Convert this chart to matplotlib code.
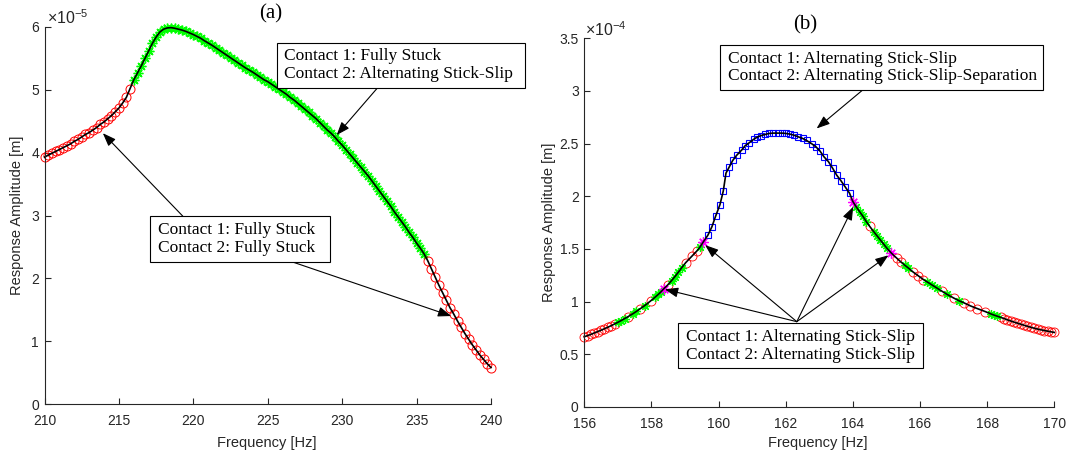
import numpy as np
import matplotlib
matplotlib.use('Agg')
from matplotlib import pyplot as plt
from matplotlib.ticker import FuncFormatter
from matplotlib.patches import Rectangle

plt.rcParams['font.family'] = 'Liberation Sans'
plt.rcParams['mathtext.fontset'] = 'custom'
plt.rcParams['mathtext.rm'] = 'Liberation Sans'
plt.rcParams['mathtext.it'] = 'Liberation Sans:italic'

W, H = 1067, 458
AX_COLOR = '#262626'
SERIF = 'Liberation Serif'
STAR = (8, 2, 0)

# ---- (a) response, amplitude in 1e-5 m ----
a_stuck_lo_f = [210.0, 210.25, 210.5, 210.75, 211.0, 211.25, 211.5, 211.75,
                212.0, 212.25, 212.5, 212.75, 213.0, 213.25, 213.5, 213.75,
                214.0, 214.25, 214.5, 214.75, 215.0, 215.25, 215.5, 215.75]
a_stuck_lo_amp = [3.93, 3.96, 3.99, 4.02, 4.05, 4.08, 4.11, 4.14,
                  4.18, 4.21, 4.25, 4.29, 4.32, 4.36, 4.40, 4.45,
                  4.49, 4.54, 4.59, 4.65, 4.71, 4.79, 4.88, 5.02]

a_slip_f = [216.0, 216.25, 216.5, 216.75, 217.0, 217.25, 217.5, 217.75,
            218.0, 218.25, 218.5, 218.75, 219.0, 219.25, 219.5, 219.75,
            220.0, 220.25, 220.5, 220.75, 221.0, 221.25, 221.5, 221.75,
            222.0, 222.25, 222.5, 222.75, 223.0, 223.25, 223.5, 223.75,
            224.0, 224.25, 224.5, 224.75, 225.0, 225.25, 225.5, 225.75,
            226.0, 226.25, 226.5, 226.75, 227.0, 227.25, 227.5, 227.75,
            228.0, 228.25, 228.5, 228.75, 229.0, 229.25, 229.5, 229.75,
            230.0, 230.25, 230.5, 230.75, 231.0, 231.25, 231.5, 231.75,
            232.0, 232.25, 232.5, 232.75, 233.0, 233.25, 233.5, 233.75,
            234.0, 234.25, 234.5, 234.75, 235.0, 235.25, 235.5]
a_slip_amp = [5.16, 5.27, 5.38, 5.50, 5.62, 5.74, 5.84, 5.92,
              5.965, 5.985, 5.99, 5.98, 5.965, 5.95, 5.93, 5.905,
              5.88, 5.85, 5.82, 5.78, 5.745, 5.71, 5.67, 5.63,
              5.59, 5.55, 5.51, 5.47, 5.43, 5.39, 5.35, 5.315,
              5.28, 5.24, 5.20, 5.16, 5.13, 5.09, 5.05, 5.01,
              4.97, 4.93, 4.88, 4.84, 4.79, 4.74, 4.69, 4.64,
              4.59, 4.54, 4.48, 4.42, 4.36, 4.31, 4.25, 4.18,
              4.12, 4.05, 3.98, 3.91, 3.84, 3.77, 3.70, 3.63,
              3.55, 3.47, 3.39, 3.31, 3.23, 3.15, 3.06, 2.98,
              2.90, 2.82, 2.73, 2.65, 2.56, 2.48, 2.39]

a_stuck_hi_f = [235.75, 236.0, 236.25, 236.5, 236.75, 237.0, 237.25, 237.5,
                237.75, 238.0, 238.25, 238.5, 238.75, 239.0, 239.25, 239.5,
                239.75, 240.0]
a_stuck_hi_amp = [2.28, 2.15, 2.02, 1.89, 1.77, 1.65, 1.53, 1.43,
                  1.32, 1.22, 1.12, 1.03, 0.94, 0.86, 0.78, 0.71,
                  0.64, 0.58]

# ---- (b) response, amplitude in 1e-4 m ----
b_stick_slip_f = [156.0, 156.1, 156.2, 156.3, 156.4, 156.5, 156.6, 156.7, 156.8, 156.9,
                  157.3, 157.65, 157.98, 158.48, 159.02, 159.2, 159.35,
                  164.5, 165.3, 165.42, 165.8, 165.95, 166.1, 166.65, 167.0, 167.3,
                  167.5, 167.7, 167.95,
                  168.4, 168.5, 168.6, 168.7, 168.8, 168.9, 169.0, 169.1, 169.2,
                  169.3, 169.4, 169.5, 169.6, 169.7, 169.8, 169.9, 170.0]
b_stick_slip_amp = [0.667, 0.678, 0.690, 0.703, 0.716, 0.729, 0.743, 0.757, 0.772, 0.788,
                    0.857, 0.929, 1.008, 1.157, 1.37, 1.43, 1.48,
                    1.715, 1.415, 1.38, 1.28, 1.245, 1.21, 1.10, 1.035, 0.99,
                    0.96, 0.935, 0.905,
                    0.851, 0.84, 0.828, 0.817, 0.806, 0.796, 0.786, 0.776, 0.766,
                    0.757, 0.748, 0.740, 0.733, 0.726, 0.720, 0.714, 0.708]

b_mixed_f = [157.0, 157.1, 157.2, 157.45, 157.55, 157.8, 158.1, 158.2, 158.28,
             158.6, 158.7, 158.8, 158.9, 159.45,
             164.1, 164.2, 164.3, 164.4, 164.62, 164.72, 164.82, 164.92, 165.02,
             165.55, 165.65, 166.2, 166.35, 166.5, 166.8, 167.15,
             168.1, 168.2, 168.3]
b_mixed_amp = [0.804, 0.821, 0.839, 0.886, 0.907, 0.963, 1.040, 1.068, 1.092,
               1.200, 1.238, 1.279, 1.322, 1.52,
               1.90, 1.855, 1.81, 1.76, 1.665, 1.625, 1.585, 1.545, 1.505,
               1.345, 1.32, 1.19, 1.16, 1.13, 1.07, 1.01,
               0.885, 0.873, 0.862]

b_switch_f = [158.36, 159.55, 164.0, 165.15]
b_switch_amp = [1.12, 1.57, 1.95, 1.46]

b_separation_f = [159.68, 159.80, 159.91, 160.04, 160.14, 160.22, 160.32, 160.42,
                  160.54, 160.69, 160.79, 160.92, 161.04, 161.14, 161.25, 161.38,
                  161.51, 161.63, 161.76, 161.88, 162.00, 162.13, 162.25, 162.37,
                  162.50, 162.62, 162.77, 162.90, 163.02, 163.14, 163.27, 163.40,
                  163.52, 163.64, 163.77, 163.90]
b_separation_amp = [1.63, 1.71, 1.81, 1.92, 2.05, 2.22, 2.28, 2.34,
                    2.39, 2.44, 2.48, 2.51, 2.54, 2.56, 2.575, 2.587,
                    2.597, 2.60, 2.60, 2.60, 2.597, 2.59, 2.58, 2.565,
                    2.55, 2.53, 2.50, 2.47, 2.43, 2.375, 2.33, 2.265,
                    2.20, 2.15, 2.09, 2.03]


def px(x, y):
    # figure pixel (from top-left) -> figure fraction
    return x / W, 1 - y / H


def style_axes(ax, scale):
    for side in ['top', 'right']:
        ax.spines[side].set_visible(False)
    for side in ['left', 'bottom']:
        ax.spines[side].set_color(AX_COLOR)
        ax.spines[side].set_linewidth(0.8)
    ax.tick_params(direction='in', length=4, width=0.8, colors=AX_COLOR,
                   labelsize=10)
    ax.tick_params(axis='x', pad=7)
    ax.tick_params(axis='y', pad=4)
    ax.yaxis.set_major_formatter(FuncFormatter(lambda v, p: '%g' % round(v / scale, 6)))
    ax.xaxis.set_major_formatter(FuncFormatter(lambda v, p: '%g' % v))


def text_box(fig, x0, y0, x1, y1, tx, text):
    l, b = px(x0, y1)
    fig.add_artist(Rectangle((l, b), (x1 - x0) / W, (y1 - y0) / H,
                             transform=fig.transFigure, fc='white',
                             ec='black', lw=0.8, zorder=5))
    fig.text(tx / W, 1 - (y0 + y1) / 2 / H, text, family=SERIF, fontsize=12.5,
             ha='left', va='center', linespacing=1.15, zorder=6)


def arrow(ax, tip, start):
    ax.annotate('', xy=tip, xytext=start, annotation_clip=False, zorder=7,
                arrowprops=dict(arrowstyle='-|>,head_length=0.8,head_width=0.3',
                                color='black', lw=0.8, shrinkA=0, shrinkB=0))


fig = plt.figure(figsize=(W / 100, H / 100), dpi=100)

# ---------------- panel (a) ----------------
ax1 = fig.add_axes([44.5 / W, 1 - 404 / H, (491 - 44.5) / W, (404 - 27) / H])
sa = 1e-5
ax1.plot(a_stuck_lo_f, np.array(a_stuck_lo_amp) * sa, 'o', ms=6.5, mfc='none',
         mec='red', mew=0.7, clip_on=False)
ax1.plot(a_slip_f, np.array(a_slip_amp) * sa, ls='none', marker=STAR, ms=7,
         mec='#00ff00', mew=1.0, clip_on=False)
ax1.plot(a_stuck_hi_f, np.array(a_stuck_hi_amp) * sa, 'o', ms=6.5, mfc='none',
         mec='red', mew=0.7, clip_on=False)
line_a_f = a_stuck_lo_f + a_slip_f + a_stuck_hi_f
line_a_amp = np.array(a_stuck_lo_amp + a_slip_amp + a_stuck_hi_amp) * sa
ax1.plot(line_a_f, line_a_amp, color='black', lw=1.2, clip_on=False)
ax1.set_xlim(210, 240)
ax1.set_ylim(0, 6e-5)
ax1.set_xticks([210, 215, 220, 225, 230, 235, 240])
ax1.set_yticks(np.array([0, 1, 2, 3, 4, 5, 6]) * sa)
style_axes(ax1, sa)

arrow(ax1, (229.63, 4.28e-5), (232.37, 5.03e-5))
arrow(ax1, (213.92, 4.31e-5), (219.29, 2.99e-5))
arrow(ax1, (237.33, 1.40e-5), (226.67, 2.26e-5))

# ---------------- panel (b) ----------------
ax2 = fig.add_axes([584.3 / W, 1 - 407 / H, (1054.3 - 584.3) / W, (407 - 38.3) / H])
sb = 1e-4
ax2.plot(b_stick_slip_f, np.array(b_stick_slip_amp) * sb, 'o', ms=6.5, mfc='none',
         mec='red', mew=0.6, clip_on=False)
ax2.plot(b_mixed_f, np.array(b_mixed_amp) * sb, ls='none', marker=STAR, ms=6.5,
         mec='#00ff00', mew=0.9, clip_on=False)
ax2.plot(b_separation_f, np.array(b_separation_amp) * sb, 's', ms=4.8, mfc='none',
         mec='blue', mew=0.8, clip_on=False)
ax2.plot(b_switch_f, np.array(b_switch_amp) * sb, ls='none', marker=STAR, ms=7.5,
         mec='#ff00ff', mew=0.9, clip_on=False)
all_f = np.array(b_stick_slip_f + b_mixed_f + b_switch_f + b_separation_f)
all_amp = np.array(b_stick_slip_amp + b_mixed_amp + b_switch_amp + b_separation_amp)
order = np.argsort(all_f)
ax2.plot(all_f[order], all_amp[order] * sb, color='black', lw=1.2, clip_on=False)
ax2.set_xlim(156, 170)
ax2.set_ylim(0, 3.5e-4)
ax2.set_xticks([156, 158, 160, 162, 164, 166, 168, 170])
ax2.set_yticks(np.array([0, 0.5, 1, 1.5, 2, 2.5, 3, 3.5]) * sb)
style_axes(ax2, sb)

arrow(ax2, (162.92, 2.644e-4), (164.31, 3.014e-4))
origin_b = (162.33, 0.81e-4)
for tip in [(158.40, 1.117e-4), (159.60, 1.537e-4), (164.01, 1.90e-4), (165.06, 1.44e-4)]:
    arrow(ax2, tip, origin_b)

# ---------------- labels and boxes ----------------
fig.text(*px(271, 14), '(a)', family=SERIF, fontsize=15, ha='center', va='center')
fig.text(*px(805, 25), '(b)', family=SERIF, fontsize=15, ha='center', va='center')

fig.text(*px(47, 18), r'$\times10^{-5}$', fontsize=11.5, color=AX_COLOR,
         ha='left', va='center')
fig.text(*px(585, 30), r'$\times10^{-4}$', fontsize=11.5, color=AX_COLOR,
         ha='left', va='center')

fig.text(*px(17, 215), 'Response Amplitude [m]', fontsize=10.5, color=AX_COLOR,
         rotation=90, ha='center', va='center')
fig.text(*px(549, 222), 'Response Amplitude [m]', fontsize=10.5, color=AX_COLOR,
         rotation=90, ha='center', va='center')
fig.text(*px(267, 443), 'Frequency [Hz]', fontsize=10.5, color=AX_COLOR,
         ha='center', va='center')
fig.text(*px(818, 443), 'Frequency [Hz]', fontsize=10.5, color=AX_COLOR,
         ha='center', va='center')

text_box(fig, 276.7, 42.7, 525, 87.7, 283.5,
         'Contact 1: Fully Stuck\nContact 2: Alternating Stick-Slip')
text_box(fig, 150, 216, 330, 262, 158.3,
         'Contact 1: Fully Stuck\nContact 2: Fully Stuck')
text_box(fig, 720, 45, 1043, 90, 728.3,
         'Contact 1: Alternating Stick-Slip\nContact 2: Alternating Stick-Slip-Separation')
text_box(fig, 678.3, 323.3, 923.3, 368.3, 685.7,
         'Contact 1: Alternating Stick-Slip\nContact 2: Alternating Stick-Slip')

fig.savefig('out.png', dpi=100)
